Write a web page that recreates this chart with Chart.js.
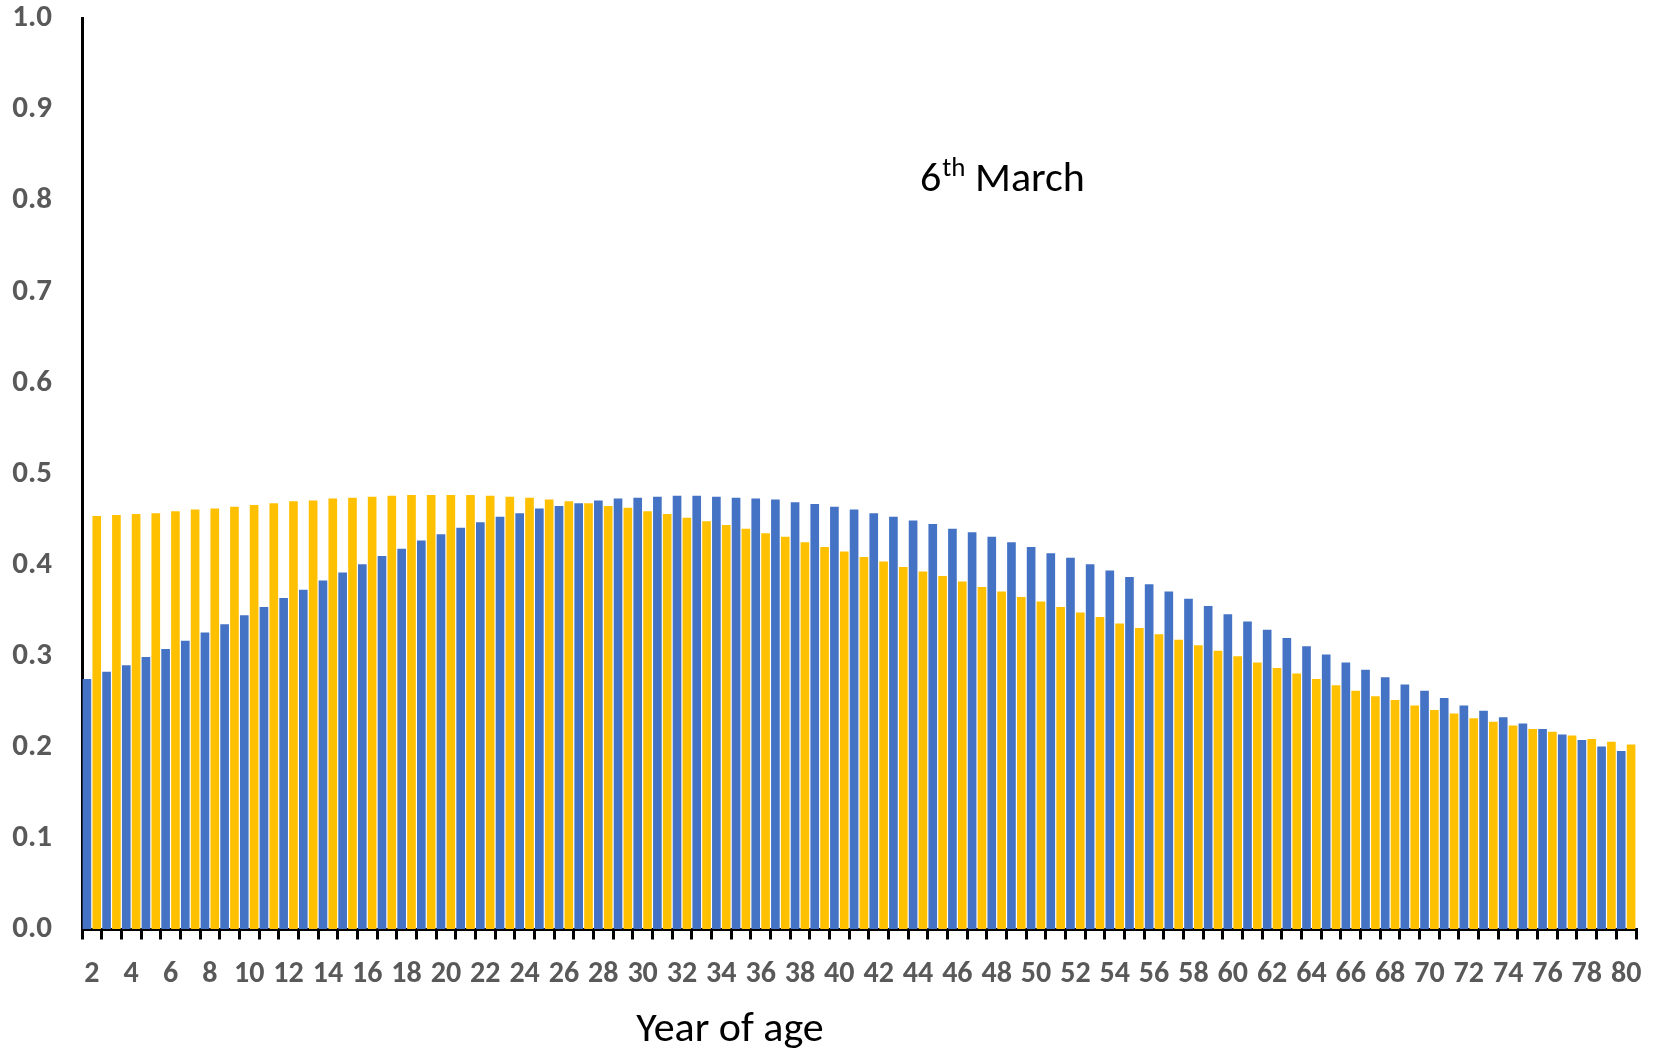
<!DOCTYPE html>
<html>
<head>
<meta charset="utf-8">
<script src="https://cdn.jsdelivr.net/npm/chart.js@4.4.1/dist/chart.umd.min.js"></script>
<style>
    body { margin: 0; background: #fff; }
    #wrap { width: 1653px; height: 1049px; }
</style>
</head>
<body>
<div id="wrap"><canvas id="age-chart" width="1653" height="1049"></canvas></div>
<script>
// Wiek (kategorie osi X)
const ages = [2, 3, 4, 5, 6, 7, 8, 9, 10, 11, 12, 13, 14, 15, 16, 17, 18, 19, 20,
    21, 22, 23, 24, 25, 26, 27, 28, 29, 30, 31, 32, 33, 34, 35, 36, 37, 38, 39, 40,
    41, 42, 43, 44, 45, 46, 47, 48, 49, 50, 51, 52, 53, 54, 55, 56, 57, 58, 59, 60,
    61, 62, 63, 64, 65, 66, 67, 68, 69, 70, 71, 72, 73, 74, 75, 76, 77, 78, 79, 80];

// Seria niebieska
const blueValues = [0.275, 0.283, 0.290, 0.299, 0.308, 0.317, 0.326, 0.335, 0.345, 0.354,
    0.364, 0.373, 0.383, 0.392, 0.401, 0.410, 0.418, 0.427, 0.434, 0.441,
    0.447, 0.453, 0.457, 0.462, 0.465, 0.468, 0.471, 0.473, 0.474, 0.475,
    0.476, 0.476, 0.475, 0.474, 0.473, 0.472, 0.469, 0.467, 0.464, 0.461,
    0.457, 0.453, 0.449, 0.445, 0.440, 0.436, 0.431, 0.425, 0.420, 0.413,
    0.408, 0.401, 0.394, 0.387, 0.379, 0.371, 0.363, 0.355, 0.346, 0.338,
    0.329, 0.320, 0.311, 0.302, 0.293, 0.285, 0.277, 0.269, 0.262, 0.254,
    0.246, 0.240, 0.233, 0.226, 0.220, 0.214, 0.208, 0.201, 0.196];

// Seria zolta
const yellowValues = [0.454, 0.455, 0.456, 0.457, 0.459, 0.461, 0.462, 0.464, 0.466, 0.468,
    0.470, 0.471, 0.473, 0.474, 0.475, 0.476, 0.477, 0.477, 0.477, 0.477,
    0.476, 0.475, 0.474, 0.472, 0.470, 0.468, 0.465, 0.463, 0.459, 0.456,
    0.452, 0.448, 0.444, 0.440, 0.435, 0.431, 0.425, 0.420, 0.415, 0.409,
    0.404, 0.398, 0.393, 0.388, 0.382, 0.376, 0.371, 0.365, 0.360, 0.354,
    0.348, 0.343, 0.336, 0.331, 0.324, 0.318, 0.312, 0.306, 0.300, 0.293,
    0.287, 0.281, 0.275, 0.268, 0.262, 0.256, 0.252, 0.246, 0.241, 0.237,
    0.232, 0.228, 0.224, 0.220, 0.217, 0.213, 0.209, 0.206, 0.203];

const axisTitle = 'Year of age';
const noteDay = '6';
const noteSup = 'th';
const noteMonth = ' March';

const fontFamily = "Carlito, Lato, 'Open Sans', sans-serif";

// Teksty dodatkowe (podpis osi i adnotacja)
const textPlugin = {
    id: 'extraText',
    afterDraw(chart) {
        const ctx = chart.ctx;
        const area = chart.chartArea;
        ctx.save();
        ctx.fillStyle = '#000';
        ctx.textBaseline = 'alphabetic';
        ctx.textAlign = 'left';

        // podpis osi X
        ctx.font = '42px ' + fontFamily;
        const tw = ctx.measureText(axisTitle).width;
        ctx.fillText(axisTitle, area.left + 648 - tw / 2, 1041);

        // 6th March
        let x = area.left + 838;
        const y = 191;
        ctx.font = '42px ' + fontFamily;
        ctx.fillText(noteDay, x, y);
        x += ctx.measureText(noteDay).width + 1;
        ctx.font = '27px ' + fontFamily;
        ctx.fillText(noteSup, x, y - 15);
        x += ctx.measureText(noteSup).width;
        ctx.font = '42px ' + fontFamily;
        ctx.fillText(noteMonth, x, y);
        ctx.restore();
    }
};

function initializeChart() {
    const ctx = document.getElementById('age-chart').getContext('2d');
    new Chart(ctx, {
        type: 'bar',
        data: {
            labels: ages,
            datasets: [{
                data: blueValues,
                backgroundColor: '#4472C4',
                borderWidth: 0,
                categoryPercentage: 1.0,
                barPercentage: 0.88
            }, {
                data: yellowValues,
                backgroundColor: '#FFC000',
                borderWidth: 0,
                categoryPercentage: 1.0,
                barPercentage: 0.88
            }]
        },
        options: {
            responsive: false,
            animation: false,
            layout: {
                padding: { top: 18.5, right: 17, left: 0, bottom: 0 }
            },
            plugins: {
                legend: { display: false },
                tooltip: { enabled: false }
            },
            scales: {
                x: {
                    afterFit: scale => {
                        scale.height = 119.5;
                        scale.paddingLeft = 0;
                        scale.paddingRight = 0;
                    },
                    grid: {
                        display: true,
                        drawOnChartArea: false,
                        drawTicks: true,
                        tickLength: 10,
                        color: '#000',
                        lineWidth: 3
                    },
                    border: { display: true, color: '#000', width: 3 },
                    ticks: {
                        autoSkip: false,
                        maxRotation: 0,
                        minRotation: 0,
                        padding: 17,
                        color: '#595959',
                        font: { family: fontFamily, size: 30, weight: 'bold' },
                        callback: (val, i) => (i % 2 === 0 ? ages[i] : '')
                    }
                },
                y: {
                    min: 0,
                    max: 1,
                    afterFit: scale => {
                        scale.width = 82;
                        scale.paddingTop = 0;
                        scale.paddingBottom = 0;
                    },
                    grid: { display: true, drawOnChartArea: false, drawTicks: false },
                    border: { display: true, color: '#000', width: 3 },
                    ticks: {
                        stepSize: 0.1,
                        padding: 30,
                        color: '#595959',
                        font: { family: fontFamily, size: 31, weight: 'bold' },
                        callback: v => v.toFixed(1)
                    }
                }
            }
        },
        plugins: [textPlugin]
    });
}

window.onload = initializeChart;
</script>
</body>
</html>
